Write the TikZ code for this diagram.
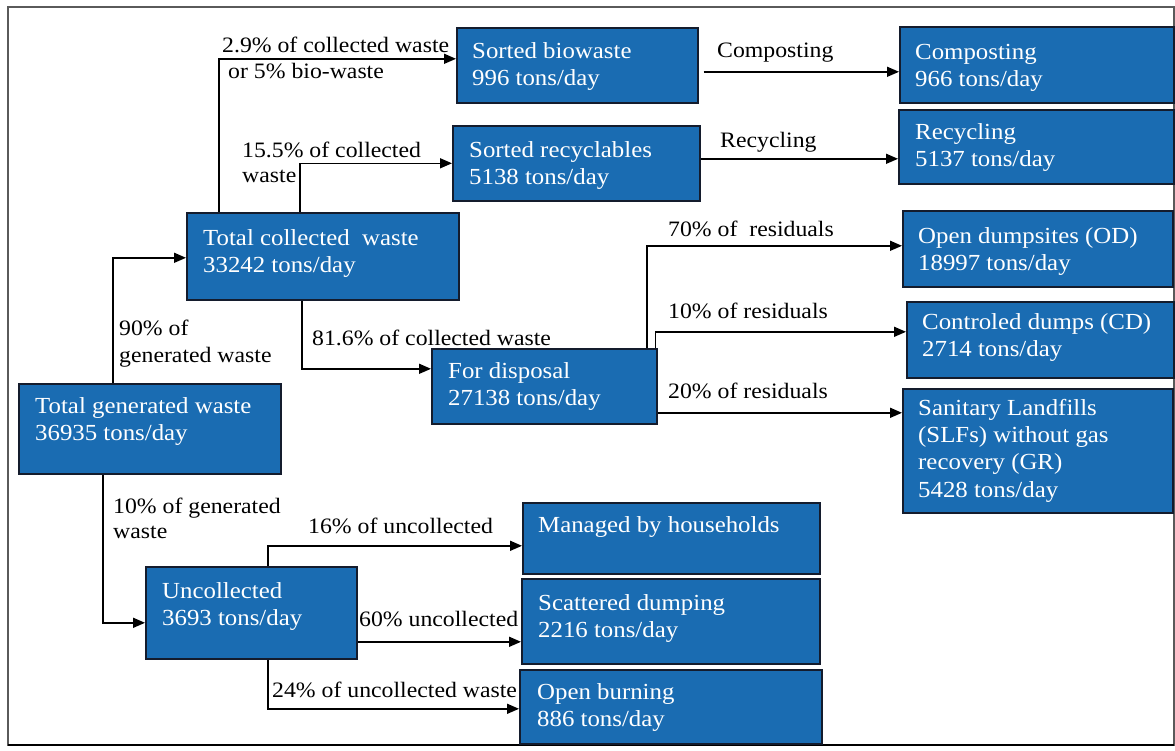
\documentclass[tikz,border=0pt]{standalone}
\usepackage{fontspec}
\setmainfont{Liberation Serif}[FakeStretch=1.08]
\usetikzlibrary{arrows.meta,calc}
\definecolor{boxblue}{RGB}{26,108,178}
\definecolor{boxline}{RGB}{20,28,45}
\definecolor{framegray}{RGB}{90,90,90}
\tikzset{
  wbox/.style={draw=boxline, line width=1.6pt, fill=boxblue, anchor=north west, inner sep=0pt},
  btxt/.style={text=white, font=\fontsize{23}{27.3}\selectfont, anchor=north west, inner sep=0pt, align=left},
  lbl/.style={text=black, font=\fontsize{22}{26}\selectfont, anchor=base west, inner sep=0pt},
  arr/.style={draw=black, line width=1.5pt, -{Triangle[length=12pt,width=10pt]}},
}
\newcommand{\fl}{\rule{0pt}{17pt}}
\begin{document}
\begin{tikzpicture}[x=1pt,y=-1pt]
\useasboundingbox (0,0) rectangle (1175,751);
\fill[white] (0,0) rectangle (1175,751);
\draw[framegray, line width=1.2pt] (8,7) rectangle (1174,745);
\draw[black, line width=2pt] (8,745) -- (1174,745);

% boxes
\node[wbox, minimum width=262pt, minimum height=90pt] (tg) at (18,383) {};
\node[wbox, minimum width=272pt, minimum height=87pt] (tc) at (186,212) {};
\node[wbox, minimum width=241pt, minimum height=75pt] (bio) at (456,27) {};
\node[wbox, minimum width=247pt, minimum height=75pt] (rec) at (452,125) {};
\node[wbox, minimum width=274pt, minimum height=76pt] (comp) at (899,26) {};
\node[wbox, minimum width=275pt, minimum height=74pt] (recy) at (898,109) {};
\node[wbox, minimum width=270pt, minimum height=76pt] (od) at (902,210) {};
\node[wbox, minimum width=267pt, minimum height=76pt] (cd) at (906,301) {};
\node[wbox, minimum width=270pt, minimum height=124pt] (slf) at (902,388) {};
\node[wbox, minimum width=225pt, minimum height=75pt] (disp) at (431,348) {};
\node[wbox, minimum width=211pt, minimum height=92pt] (unc) at (145,566) {};
\node[wbox, minimum width=297pt, minimum height=71pt] (man) at (522,502) {};
\node[wbox, minimum width=298pt, minimum height=85pt] (sca) at (521,578) {};
\node[wbox, minimum width=302pt, minimum height=74pt] (burn) at (519,669) {};

% box texts
\node[btxt] (tgT) at (35,396) {\fl Total generated waste\\36935 tons/day};
\node[btxt] (tcT) at (203,228) {\fl Total collected\ \ waste\\33242 tons/day};
\node[btxt] (bioT) at (472,41) {\fl Sorted biowaste\\996 tons/day};
\node[btxt] (recT) at (469,140) {\fl Sorted recyclables\\5138 tons/day};
\node[btxt] (compT) at (915,42) {\fl Composting\\966 tons/day};
\node[btxt] (recyT) at (915,122) {\fl Recycling\\5137 tons/day};
\node[btxt] (odT) at (918,226) {\fl Open dumpsites (OD)\\18997 tons/day};
\node[btxt] (cdT) at (922,312) {\fl Controled dumps (CD)\\2714 tons/day};
\node[btxt] (slfT) at (918,398) {\fl Sanitary Landfills\\(SLFs) without gas\\recovery (GR)\\5428 tons/day};
\node[btxt] (dispT) at (448,361) {\fl For disposal\\27138 tons/day};
\node[btxt] (uncT) at (162,581) {\fl Uncollected\\3693 tons/day};
\node[btxt] (manT) at (538,515) {\fl Managed by households};
\node[btxt] (scaT) at (538,593) {\fl Scattered dumping\\2216 tons/day};
\node[btxt] (burnT) at (537,682) {\fl Open burning\\886 tons/day};

% connectors
\draw[arr] ($(tg.north west)+(95,0)$) |- ($(tc.west)+(0,1.5)$);
\draw[arr] ($(tg.south west)+(85,0)$) |- ($(unc.west)+(0,10)$);
\draw[arr] ($(tc.north west)+(33,0)$) |- ($(bio.west)+(0,-6.5)$);
\draw[arr] ($(tc.north west)+(114,0)$) |- (rec.west);
\draw[arr] ($(tc.south west)+(116,0)$) |- ($(disp.west)+(0,-17.5)$);
\coordinate (cs) at ($(bio.east)+(5,6.5)$);
\draw[arr] (cs) -- (cs -| comp.west);
\coordinate (rs) at ($(rec.east)+(0,-4.5)$);
\draw[arr] (rs) -- (rs -| recy.west);
\draw[arr] ($(disp.north west)+(216,0)$) |- ($(od.west)+(0,-3)$);
\draw[arr] ($(disp.north east)+(-2,0)$) |- ($(cd.west)+(0,-8)$);
\coordinate (ds) at ($(disp.east)+(0,26.5)$);
\draw[arr] (ds) -- (ds -| slf.west);
\draw[arr] ($(unc.north west)+(123,0)$) |- ($(man.west)+(0,7.5)$);
\coordinate (us) at ($(unc.east)+(0,29)$);
\draw[arr] (us) -- (us -| sca.west);
\draw[arr] ($(unc.south west)+(123,0)$) |- ($(burn.west)+(0,2)$);

% labels
\node[lbl] (l1a) at (222,53) {2.9\% of collected waste};
\node[lbl] (l1b) at (228,79) {or 5\% bio-waste};
\node[lbl] (l2a) at (242,158) {15.5\% of collected};
\node[lbl] (l2b) at (242,183) {waste};
\node[lbl] (l3a) at (119,335) {90\% of};
\node[lbl] (l3b) at (119,362) {generated waste};
\node[lbl] (l4) at (312,345) {81.6\% of collected waste};
\node[lbl] (l5a) at (113,513) {10\% of generated};
\node[lbl] (l5b) at (113,538) {waste};
\node[lbl] (l6) at (717,58) {Composting};
\node[lbl] (l7) at (720,148) {Recycling};
\node[lbl] (l8) at (668,237) {70\% of\ \ residuals};
\node[lbl] (l9) at (668,318) {10\% of residuals};
\node[lbl] (l10) at (668,398) {20\% of residuals};
\node[lbl] (l11) at (308,533) {16\% of uncollected};
\node[lbl] (l12) at (359,626) {60\% uncollected};
\node[lbl] (l13) at (272,697) {24\% of uncollected waste};
\end{tikzpicture}
\end{document}
